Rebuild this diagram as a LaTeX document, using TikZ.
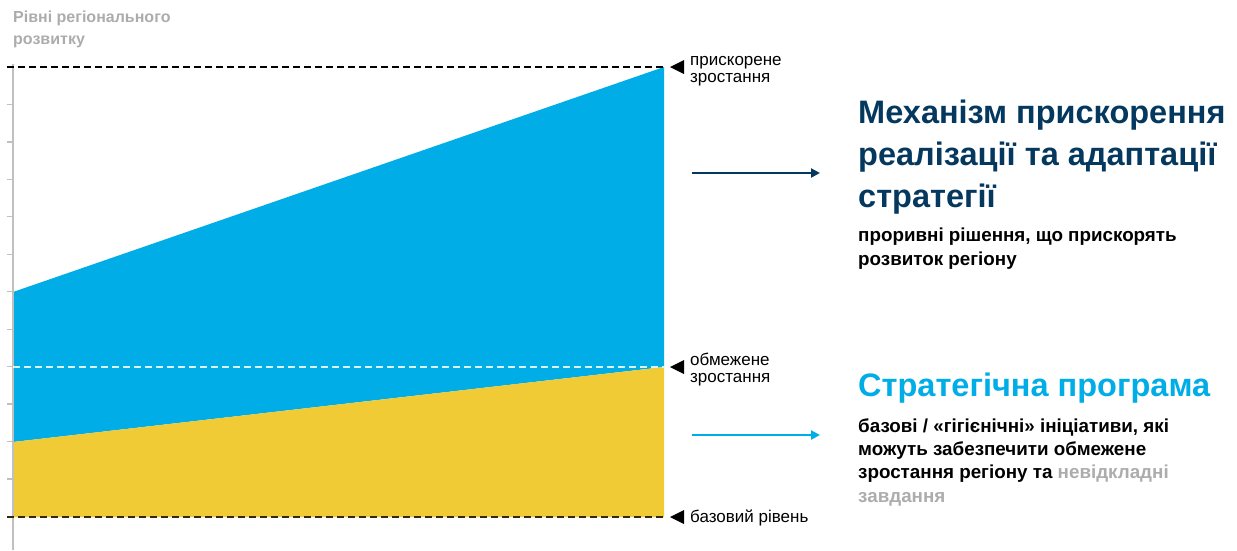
\documentclass[tikz,border=0pt]{standalone}
\usepackage{fontspec}
\setmainfont{Liberation Sans}
\usetikzlibrary{arrows.meta}

\definecolor{areablue}{RGB}{0,173,230}
\definecolor{areayellow}{RGB}{240,203,53}
\definecolor{navy}{RGB}{5,56,94}
\definecolor{softgray}{RGB}{172,172,172}
\definecolor{axisgray}{RGB}{192,192,192}

\begin{document}
\begin{tikzpicture}[x=1pt, y=-1pt,
    level/.style={dash pattern=on 7pt off 4pt, line width=1.2pt},
    lbl/.style={anchor=base west, align=left, inner sep=0, font=\fontsize{17}{17}\selectfont},
    head/.style={anchor=base west, align=left, inner sep=0, font=\fontsize{32.5}{42}\selectfont\bfseries},
    body/.style={anchor=base west, align=left, inner sep=0, font=\fontsize{18.8}{23.2}\selectfont\bfseries},
    link/.style={-{Triangle[length=9pt,width=9pt]}, line width=2.2pt}
]
    \useasboundingbox (0,0) rectangle (1237,550);

    % Growth areas
    \fill[areablue] (13,292) -- (664,67) -- (664,367) -- (13,442) -- cycle;
    \fill[areayellow] (13,442) -- (664,367) -- (664,517) -- (13,517) -- cycle;

    % Axis with ticks
    \draw[axisgray, line width=1.5pt] (13,64) -- (13,550);
    \foreach \k in {1,...,11}
        \draw[axisgray, line width=1.2pt] (7,67+\k*37.45) -- (13,67+\k*37.45);
    \node[anchor=base west, align=left, inner sep=0, softgray,
          font=\fontsize{16}{21.5}\selectfont\bfseries] (ylabel) at (13,44) {Рівні регіонального\\розвитку};

    % Levels
    \draw[level, black] (7,67) -- (664,67);
    \draw[level, white!85!areablue] (13,367) -- (664,367);
    \draw[level, black!80!areayellow] (7,517) -- (664,517);

    % Level markers
    \foreach \y in {67,367,517}
        \fill (670,\y) -- (684,\y-7) -- (684,\y+7) -- cycle;
    \node[lbl] (fast) at (690,82) {прискорене\\зростання};
    \node[lbl] (slow) at (690,382) {обмежене\\зростання};
    \node[lbl] (base) at (690,522) {базовий рівень};

    % Mechanism
    \node[head, navy] (mech) at (858,207) {Механізм прискорення\\реалізації та адаптації\\стратегії};
    \node[body] (mechsub) at (858,265) {проривні рішення, що прискорять\\розвиток регіону};

    % Programme
    \node[head, areablue] (prog) at (858,396) {Стратегічна програма};
    \node[body] (progsub) at (858,502) {базові / «гігієнічні» ініціативи, які\\можуть забезпечити обмежене\\зростання регіону та \textcolor{softgray}{невідкладні}\\\textcolor{softgray}{завдання}};

    % Arrows
    \coordinate (fastfrom) at (692,173);
    \coordinate (fastto) at (820,173);
    \coordinate (slowfrom) at (692,435);
    \coordinate (slowto) at (820,435);
    \draw[link, navy] (fastfrom) -- (fastto);
    \draw[link, areablue] (slowfrom) -- (slowto);
\end{tikzpicture}
\end{document}
